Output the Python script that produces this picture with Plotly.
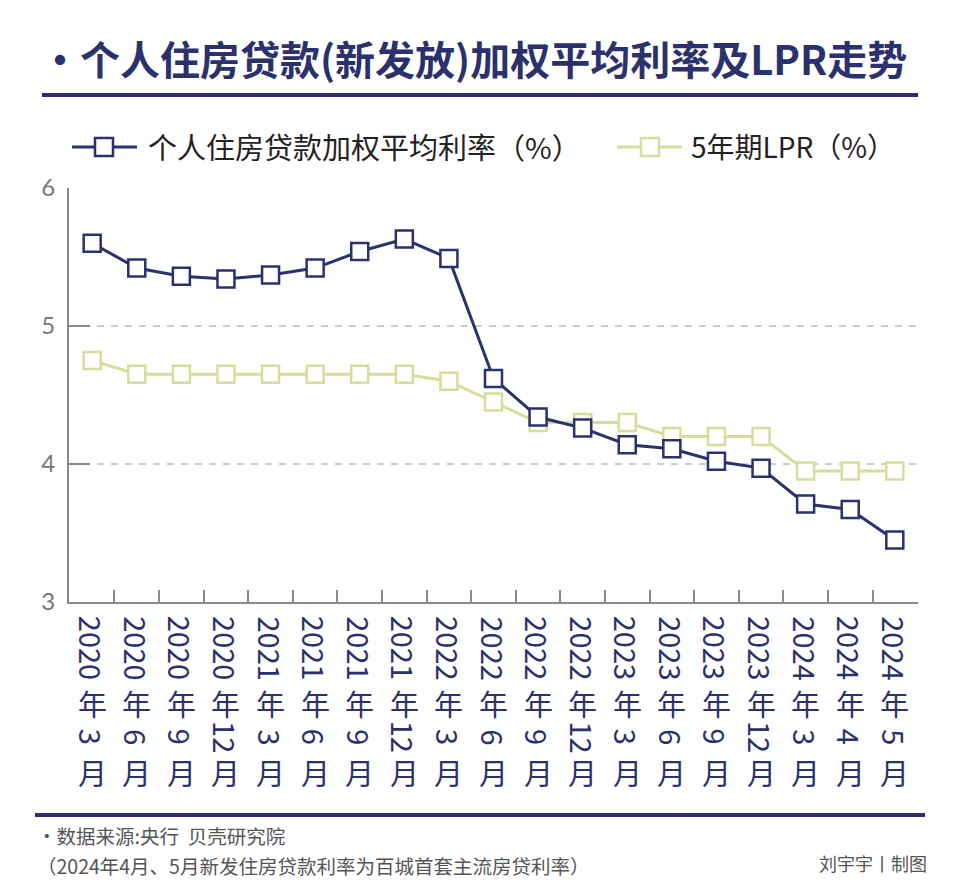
import plotly.graph_objects as go

# ---- data ----
years = ["2020", "2020", "2020", "2020", "2021", "2021", "2021", "2021", "2022", "2022",
         "2022", "2022", "2023", "2023", "2023", "2023", "2024", "2024", "2024"]
months = ["3", "6", "9", "12", "3", "6", "9", "12", "3", "6",
          "9", "12", "3", "6", "9", "12", "3", "4", "5"]
mortgage_rate = [5.60, 5.42, 5.36, 5.34, 5.37, 5.42, 5.54, 5.63, 5.49, 4.62,
                 4.34, 4.26, 4.14, 4.11, 4.02, 3.97, 3.71, 3.67, 3.45]
lpr_5y = [4.75, 4.65, 4.65, 4.65, 4.65, 4.65, 4.65, 4.65, 4.60, 4.45,
          4.30, 4.30, 4.30, 4.20, 4.20, 4.20, 3.95, 3.95, 3.95]
y_ticks = [3, 4, 5, 6]

series_names = ["个人住房贷款加权平均利率（%）", "5年期LPR（%）"]
title_text = "•个人住房贷款(新发放)加权平均利率及LPR走势"
source_text = "·数据来源:央行  贝壳研究院"
note_text = "（2024年4月、5月新发住房贷款利率为百城首套主流房贷利率）"
credit_text = "刘宇宇丨制图"

categories = [f"{y}年{m}月" for y, m in zip(years, months)]

NAVY = "#2b316c"
GREEN = "#d3e09c"
CJK = "Noto Sans CJK SC"

OFF = 8  # page body margin
W, H = 960, 895
L, R, T, B = 69, 918, 188, 602  # plot area in page pixels


def px2x(px):
    return (px - L) / (R - L)


def py2y(py):
    return (B - py) / (B - T)


fig = go.Figure()
fig.add_trace(go.Scatter(
    x=categories, y=lpr_5y, mode="lines+markers", name=series_names[1],
    line=dict(color=GREEN, width=3),
    marker=dict(symbol="square", size=17, color="white", line=dict(color=GREEN, width=2.5)),
    showlegend=False, cliponaxis=False))
fig.add_trace(go.Scatter(
    x=categories, y=mortgage_rate, mode="lines+markers", name=series_names[0],
    line=dict(color=NAVY, width=3),
    marker=dict(symbol="square", size=17, color="white", line=dict(color=NAVY, width=2.5)),
    showlegend=False, cliponaxis=False))

annotations = []
shapes = []

# title
annotations.append(dict(text=title_text, x=px2x(38), y=py2y(58), xref="paper", yref="paper",
                        xanchor="left", yanchor="middle", showarrow=False,
                        font=dict(family=CJK, size=40, color=NAVY, weight="bold")))
shapes.append(dict(type="line", xref="paper", yref="paper", x0=px2x(42), x1=px2x(918),
                   y0=py2y(95), y1=py2y(95), line=dict(color=NAVY, width=4)))

# legend (manual)
for (x0, x1, sq, col, name, tx, fs) in [(72, 137, 104, NAVY, series_names[0], 146, 29),
                                         (617, 682, 650, GREEN, series_names[1], 689, 28)]:
    shapes.append(dict(type="line", xref="paper", yref="paper", x0=px2x(x0), x1=px2x(x1),
                       y0=py2y(147), y1=py2y(147), line=dict(color=col, width=3)))
    shapes.append(dict(type="rect", xref="paper", yref="paper", x0=px2x(sq - 9), x1=px2x(sq + 9),
                       y0=py2y(156), y1=py2y(138), fillcolor="white", line=dict(color=col, width=2.5)))
    annotations.append(dict(text=name, x=px2x(tx), y=py2y(146), xref="paper", yref="paper",
                            xanchor="left", yanchor="middle", showarrow=False,
                            font=dict(family=CJK, size=fs, color="#222222")))

# x category labels (vertical)
lab_font = dict(family=CJK, size=29, color=NAVY)
for cat, yr, mo in zip(categories, years, months):
    annotations.append(dict(text=yr, x=cat, xref="x", y=py2y(648), yref="paper", textangle=90,
                            xanchor="center", yanchor="middle", showarrow=False, font=lab_font))
    annotations.append(dict(text="年", x=cat, xref="x", y=py2y(703), yref="paper",
                            xanchor="center", yanchor="middle", showarrow=False, font=lab_font))
    annotations.append(dict(text=mo, x=cat, xref="x", y=py2y(737), yref="paper", textangle=90,
                            xanchor="center", yanchor="middle", showarrow=False, font=lab_font))
    annotations.append(dict(text="月", x=cat, xref="x", y=py2y(772), yref="paper",
                            xanchor="center", yanchor="middle", showarrow=False, font=lab_font))

# footer
shapes.append(dict(type="line", xref="paper", yref="paper", x0=px2x(35), x1=px2x(925),
                   y0=py2y(815), y1=py2y(815), line=dict(color=NAVY, width=4)))
foot_font = dict(family=CJK, size=19.5, color="#555555")
annotations.append(dict(text=source_text, x=px2x(35), y=py2y(836), xref="paper", yref="paper",
                        xanchor="left", yanchor="middle", showarrow=False, font=foot_font))
annotations.append(dict(text=note_text, x=px2x(35), y=py2y(865), xref="paper", yref="paper",
                        xanchor="left", yanchor="middle", showarrow=False, font=foot_font))
annotations.append(dict(text=credit_text, x=px2x(929), y=py2y(863), xref="paper", yref="paper",
                        xanchor="right", yanchor="middle", showarrow=False,
                        font=dict(family=CJK, size=18, color="#555555")))

fig.update_layout(
    width=W - OFF, height=H - OFF, autosize=False,
    margin=dict(l=L - OFF, r=W - R, t=T - OFF, b=H - B, pad=0),
    plot_bgcolor="white", paper_bgcolor="white",
    annotations=annotations, shapes=shapes,
    xaxis=dict(type="category", range=[-0.52, len(categories) - 0.48], showgrid=False,
               showline=True, linecolor="#8a8a8a", linewidth=2,
               ticks="inside", tickson="boundaries", ticklen=12, tickcolor="#8a8a8a", tickwidth=1.5,
               showticklabels=False, zeroline=False, fixedrange=True),
    yaxis=dict(range=[3, 6], tickvals=y_ticks, showgrid=True, gridcolor="#cccccc", gridwidth=1.5,
               griddash="7px,7px", showline=True, linecolor="#8a8a8a", linewidth=2,
               ticks="inside", ticklen=21, tickcolor="#8a8a8a", tickwidth=1.5,
               tickfont=dict(family="Lato", size=24, color="#777777"), ticklabelstandoff=7,
               zeroline=False, fixedrange=True),
)

fig.write_html("out.html")
